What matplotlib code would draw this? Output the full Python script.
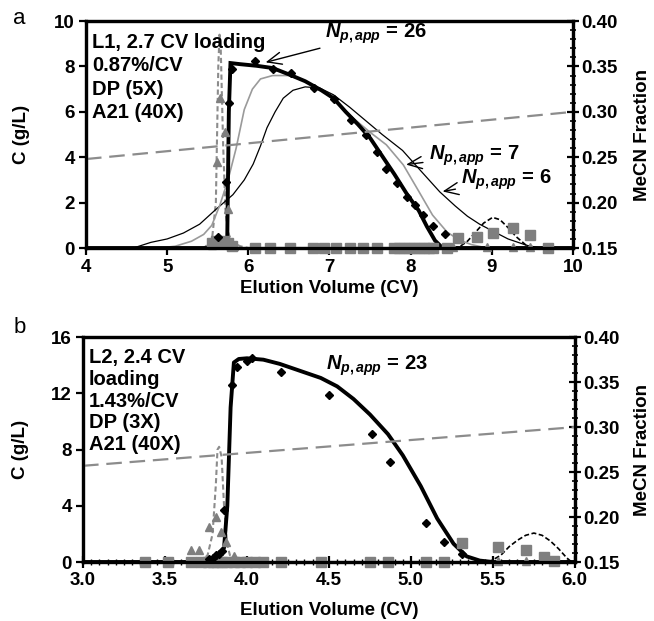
import matplotlib
matplotlib.use('Agg')
import matplotlib.pyplot as plt
from matplotlib.ticker import MultipleLocator

plt.rcParams['font.family'] = ['Liberation Sans', 'DejaVu Sans']
plt.rcParams['font.weight'] = 'bold'
plt.rcParams['mathtext.fontset'] = 'custom'
plt.rcParams['mathtext.it'] = 'Liberation Sans:italic:bold'
plt.rcParams['mathtext.rm'] = 'Liberation Sans:bold'
plt.rcParams['mathtext.bf'] = 'Liberation Sans:bold'

GRAY_MK = '#7f7f7f'
GRAY_LN = '#9a9a9a'
GRAY_DASH = '#8c8c8c'
FS_TICK = 13.5
FS_LAB = 13.5
FS_TXT = 14.5

# ---------------- panel a data ----------------
a_fit26_x = [4.0, 5.70, 5.74, 5.76, 5.78, 5.9, 6.1, 6.3, 6.5, 6.7, 6.9, 7.05, 7.2, 7.35, 7.5,
             7.65, 7.8, 7.95, 8.1, 8.2, 8.3, 8.38, 8.45, 10.0]
a_fit26_y = [0, 0, 0.3, 6.0, 8.15, 8.1, 8.03, 7.93, 7.65, 7.35, 6.95, 6.6, 6.0, 5.45, 4.85,
             4.05, 3.25, 2.4, 1.65, 0.95, 0.33, 0.05, 0, 0]

a_fit7_x = [4.0, 4.9, 5.1, 5.3, 5.45, 5.55, 5.65, 5.75, 5.85, 5.95, 6.05, 6.15, 6.3, 6.5, 6.7,
            6.9, 7.1, 7.3, 7.5, 7.7, 7.91, 8.1, 8.27, 8.45, 8.6, 8.75, 8.94, 10.0]
a_fit7_y = [0, 0, 0.08, 0.3, 0.6, 1.0, 1.9, 3.0, 4.4, 6.1, 7.0, 7.45, 7.6, 7.6, 7.35,
            6.95, 6.4, 5.7, 5.1, 4.55, 3.66, 2.5, 1.45, 0.7, 0.35, 0.15, 0, 0]

a_fit6_x = [4.0, 4.6, 4.8, 5.0, 5.2, 5.4, 5.6, 5.81, 5.95, 6.06, 6.15, 6.23, 6.33, 6.43, 6.55,
            6.7, 6.88, 7.05, 7.25, 7.45, 7.65, 7.9, 8.1, 8.36, 8.55, 8.7, 8.85, 9.01, 9.2, 9.43,
            9.6, 10.0]
a_fit6_y = [0, 0.02, 0.25, 0.4, 0.66, 1.05, 1.7, 2.35, 3.0, 3.7, 4.5, 5.3, 6.0, 6.6, 6.95,
            7.1, 7.05, 6.75, 6.2, 5.6, 5.0, 4.3, 3.5, 2.47, 1.85, 1.4, 1.05, 0.75, 0.4, 0.12,
            0, 0]

a_tri_fit_x = [4.0, 5.45, 5.55, 5.6, 5.63, 5.645, 5.66, 5.69, 5.72, 5.76, 5.8, 5.9, 6.0, 10.0]
a_tri_fit_y = [0, 0, 0.3, 2.0, 8.0, 9.4, 8.8, 4.5, 1.5, 0.6, 0.25, 0.08, 0, 0]

a_bump_x = [4.0, 8.54, 8.6, 8.7, 8.8, 8.9, 9.01, 9.1, 9.2, 9.3, 9.43, 9.5, 10.0]
a_bump_y = [0, 0, 0.05, 0.3, 0.7, 1.1, 1.35, 1.25, 0.9, 0.5, 0.1, 0, 0]

a_dia_x = [5.63, 5.73, 5.76, 5.80, 6.08, 6.31, 6.53, 6.81, 7.05, 7.27, 7.45, 7.58, 7.70,
           7.83, 7.95, 8.05, 8.15, 8.27, 8.42]
a_dia_y = [0.5, 2.9, 6.4, 7.9, 8.25, 7.9, 7.7, 7.05, 6.55, 5.65, 5.0, 4.25, 3.5,
           2.85, 2.25, 1.9, 1.45, 0.95, 0.6]

a_tri_x = [5.55, 5.58, 5.61, 5.62, 5.65, 5.66, 5.69, 5.71, 5.72, 5.75, 5.78, 5.82,
           8.52, 8.94, 9.26, 9.47]
a_tri_y = [0.15, 0.3, 3.8, 0.2, 6.6, 0.3, 0.2, 5.1, 0.2, 1.7, 0.15, 0.1,
           0.05, 0.05, 0.05, 0.05]

a_sq_x = [5.55, 5.6, 5.65, 5.7, 5.75, 5.8, 6.08, 6.27, 6.51, 6.80, 6.93, 7.08, 7.25, 7.41,
          7.58, 7.8, 7.86, 7.92, 7.98, 8.04, 8.1, 8.16, 8.22, 8.28, 8.45,
          8.58, 8.82, 9.02, 9.26, 9.47, 9.69]
a_sq_y = [0.2, 0.3, 0.2, 0.3, 0.2, 0.1, 0, 0, 0, 0, 0, 0, 0, 0,
          0, 0, 0, 0, 0, 0, 0, 0, 0, 0, 0,
          0.44, 0.5, 0.65, 0.88, 0.57, 0]

a_mecn_x = [4.0, 10.0]
a_mecn_y = [0.248, 0.300]

# ---------------- panel b data ----------------
b_fit23_x = [3.0, 3.74, 3.78, 3.82, 3.86, 3.88, 3.9, 3.92, 3.95, 4.0, 4.1, 4.2, 4.3, 4.45,
             4.55, 4.65, 4.75, 4.86, 4.95, 5.06, 5.16, 5.26, 5.34, 5.42, 5.5, 6.0]
b_fit23_y = [0, 0, 0.2, 0.5, 1.0, 4.0, 11.0, 14.2, 14.45, 14.5, 14.4, 14.1, 13.7, 13.1,
             12.5, 11.6, 10.5, 9.1, 7.6, 5.4, 3.1, 1.3, 0.4, 0.1, 0, 0]

b_tri_fit_x = [3.0, 3.72, 3.76, 3.79, 3.81, 3.82, 3.83, 3.845, 3.86, 3.88, 3.9, 3.95, 6.0]
b_tri_fit_y = [0, 0, 0.5, 2.0, 5.5, 8.0, 8.2, 7.5, 4.0, 1.2, 0.3, 0, 0]

b_bump_x = [3.0, 5.47, 5.5, 5.55, 5.6, 5.65, 5.7, 5.75, 5.8, 5.85, 5.9, 5.95, 5.98, 6.0]
b_bump_y = [0, 0, 0.15, 0.5, 1.1, 1.55, 1.9, 2.06, 1.9, 1.5, 0.95, 0.3, 0, 0]

b_dia_x = [3.77, 3.79, 3.81, 3.83, 3.85, 3.86, 3.91, 3.94, 4.00, 4.03, 4.21, 4.50, 4.76,
           4.87, 5.09, 5.20, 5.31]
b_dia_y = [0.2, 0.3, 0.5, 0.6, 0.8, 3.7, 12.6, 13.9, 14.3, 14.5, 13.5, 11.9, 9.1,
           7.1, 2.8, 1.4, 0.57]

b_tri_x = [3.66, 3.71, 3.77, 3.81, 3.84, 3.87, 3.75, 3.79, 3.83, 3.9, 3.92, 3.96, 4.0,
           4.05, 4.1, 5.53, 5.70]
b_tri_y = [0.85, 0.85, 2.5, 3.2, 2.1, 1.4, 0.1, 0.1, 0.1, 0.1, 0.4, 0.1, 0.1,
           0.1, 0.1, 0.1, 0.1]

b_sq_x = [3.38, 3.52, 3.66, 3.72, 3.76, 3.79, 3.82, 3.85, 3.88, 3.92, 3.96, 4.0, 4.05,
          4.1, 4.21, 4.45, 4.75, 4.86, 5.09, 5.2, 5.31, 5.53, 5.70, 5.81, 5.87]
b_sq_y = [0, 0, 0, 0, 0, 0, 0, 0, 0, 0, 0, 0, 0,
          0, 0, 0, 0, 0, 0, 0, 1.35, 1.1, 0.85, 0.36, 0.1]

b_mecn_x = [3.0, 6.0]
b_mecn_y = [0.257, 0.300]

a_text = ['L1, 2.7 CV loading', '0.87%/CV', 'DP (5X)', 'A21 (40X)']
b_text = ['L2, 2.4 CV', 'loading', '1.43%/CV', 'DP (3X)', 'A21 (40X)']


def style_axes(ax, ax2, ylab_x, xlab_y, rlab_x):
    for sp in ax.spines.values():
        sp.set_linewidth(2.3)
    for sp in ax2.spines.values():
        sp.set_linewidth(2.3)
    ax.tick_params(axis='both', which='major', labelsize=FS_TICK, width=1.6, length=5,
                   direction='out', pad=3)
    ax2.set_ylim(0.15, 0.40)
    ax2.yaxis.set_major_locator(MultipleLocator(0.05))
    ax2.yaxis.set_minor_locator(MultipleLocator(0.01))
    ax2.set_yticklabels([f'{v:.2f}' for v in ax2.get_yticks()])
    ax2.tick_params(axis='y', which='major', labelsize=FS_TICK, width=1.6, length=8,
                    direction='inout', pad=2)
    ax2.tick_params(axis='y', which='minor', width=1.2, length=5, direction='inout')
    ax2.set_ylabel('MeCN Fraction', fontsize=FS_LAB, fontweight='bold')
    ax.set_ylabel('C (g/L)', fontsize=FS_LAB, fontweight='bold')
    ax.set_xlabel('Elution Volume (CV)', fontsize=FS_LAB, fontweight='bold')
    ax.yaxis.set_label_coords(ylab_x, 0.5)
    ax.xaxis.set_label_coords(0.5, xlab_y)
    ax2.yaxis.set_label_coords(rlab_x, 0.5)


def draw_markers(ax, sqx, sqy, trx, try_, dx, dy):
    ax.plot(sqx, sqy, 's', color=GRAY_MK, ms=6.5, mec=GRAY_MK, zorder=3, clip_on=False)
    ax.plot(trx, try_, '^', color=GRAY_MK, ms=5.5, mec=GRAY_MK, zorder=3, clip_on=False)
    ax.plot(dx, dy, 'D', color='black', ms=4.5, zorder=4, clip_on=False)


fig = plt.figure(figsize=(6.54, 6.21), dpi=100)

# ---------------- panel a ----------------
ax = fig.add_axes([0.1315, 0.6006, 0.7446, 0.3655])
ax2 = ax.twinx()
ax.plot(a_tri_fit_x, a_tri_fit_y, color=GRAY_DASH, lw=1.5, ls=(0, (2.5, 1.5)), zorder=2)
ax.plot(a_bump_x, a_bump_y, color='black', lw=1.2, ls=(0, (3, 1.5)), zorder=2)
ax.plot(a_fit6_x, a_fit6_y, color='black', lw=0.9, zorder=2)
ax.plot(a_fit7_x, a_fit7_y, color=GRAY_LN, lw=1.2, zorder=2)
ax.plot(a_fit26_x, a_fit26_y, color='black', lw=2.8, zorder=3, solid_joinstyle='miter')
draw_markers(ax, a_sq_x, a_sq_y, a_tri_x, a_tri_y, a_dia_x, a_dia_y)
ax2.plot(a_mecn_x, a_mecn_y, color=GRAY_DASH, lw=1.6, ls=(0, (7, 3.5)))
ax.set_xlim(4, 10)
ax.set_ylim(0, 10)
ax.xaxis.set_major_locator(MultipleLocator(1))
ax.yaxis.set_major_locator(MultipleLocator(2))
style_axes(ax, ax2, -0.115, -0.14, 1.125)

for i, t in enumerate(a_text):
    ax.text(0.012, 0.905 - i * 0.103, t, transform=ax.transAxes, fontsize=FS_TXT,
            fontweight='bold', va='center', ha='left')

ann = dict(arrowstyle='->,head_length=0.7,head_width=0.3', color='black', lw=1.0)
ax.annotate(r'$N_{p,app}$ = 26', xy=(6.18, 8.15), xytext=(6.95, 9.45),
            fontsize=FS_TXT, fontweight='bold', va='center', ha='left', arrowprops=ann)
ax.annotate(r'$N_{p,app}$ = 7', xy=(7.91, 3.66), xytext=(8.22, 4.05),
            fontsize=FS_TXT, fontweight='bold', va='center', ha='left', arrowprops=ann)
ax.annotate(r'$N_{p,app}$ = 6', xy=(8.36, 2.47), xytext=(8.62, 3.0),
            fontsize=FS_TXT, fontweight='bold', va='center', ha='left', arrowprops=ann)
fig.text(0.03, 0.971, 'a', fontsize=16, fontweight='normal', va='center', ha='center')

# ---------------- panel b ----------------
bx = fig.add_axes([0.127, 0.095, 0.752, 0.362])
bx2 = bx.twinx()
bx.plot(b_tri_fit_x, b_tri_fit_y, color=GRAY_DASH, lw=1.5, ls=(0, (2.5, 1.5)), zorder=2)
bx.plot(b_bump_x, b_bump_y, color='black', lw=1.2, ls=(0, (3, 1.5)), zorder=2)
bx.plot(b_fit23_x, b_fit23_y, color='black', lw=2.8, zorder=3)
draw_markers(bx, b_sq_x, b_sq_y, b_tri_x, b_tri_y, b_dia_x, b_dia_y)
bx2.plot(b_mecn_x, b_mecn_y, color=GRAY_DASH, lw=1.6, ls=(0, (7, 3.5)))
bx.set_xlim(3, 6)
bx.set_ylim(0, 16)
bx.xaxis.set_major_locator(MultipleLocator(0.5))
bx.xaxis.set_minor_locator(MultipleLocator(0.05))
bx.yaxis.set_major_locator(MultipleLocator(4))
bx.set_xticklabels([f'{v:.1f}' for v in bx.get_xticks()])
style_axes(bx, bx2, -0.11, -0.18, 1.12)
bx.tick_params(axis='x', which='minor', width=1.0, length=4, direction='inout')
bx.tick_params(axis='x', which='major', direction='inout', length=8)

for i, t in enumerate(b_text):
    bx.text(0.012, 0.91 - i * 0.097, t, transform=bx.transAxes, fontsize=FS_TXT,
            fontweight='bold', va='center', ha='left')
bx.text(4.48, 14.0, r'$N_{p,app}$ = 23', fontsize=FS_TXT, fontweight='bold',
        va='center', ha='left')
fig.text(0.03, 0.472, 'b', fontsize=16, fontweight='normal', va='center', ha='center')

fig.savefig('out.png', dpi=100)
